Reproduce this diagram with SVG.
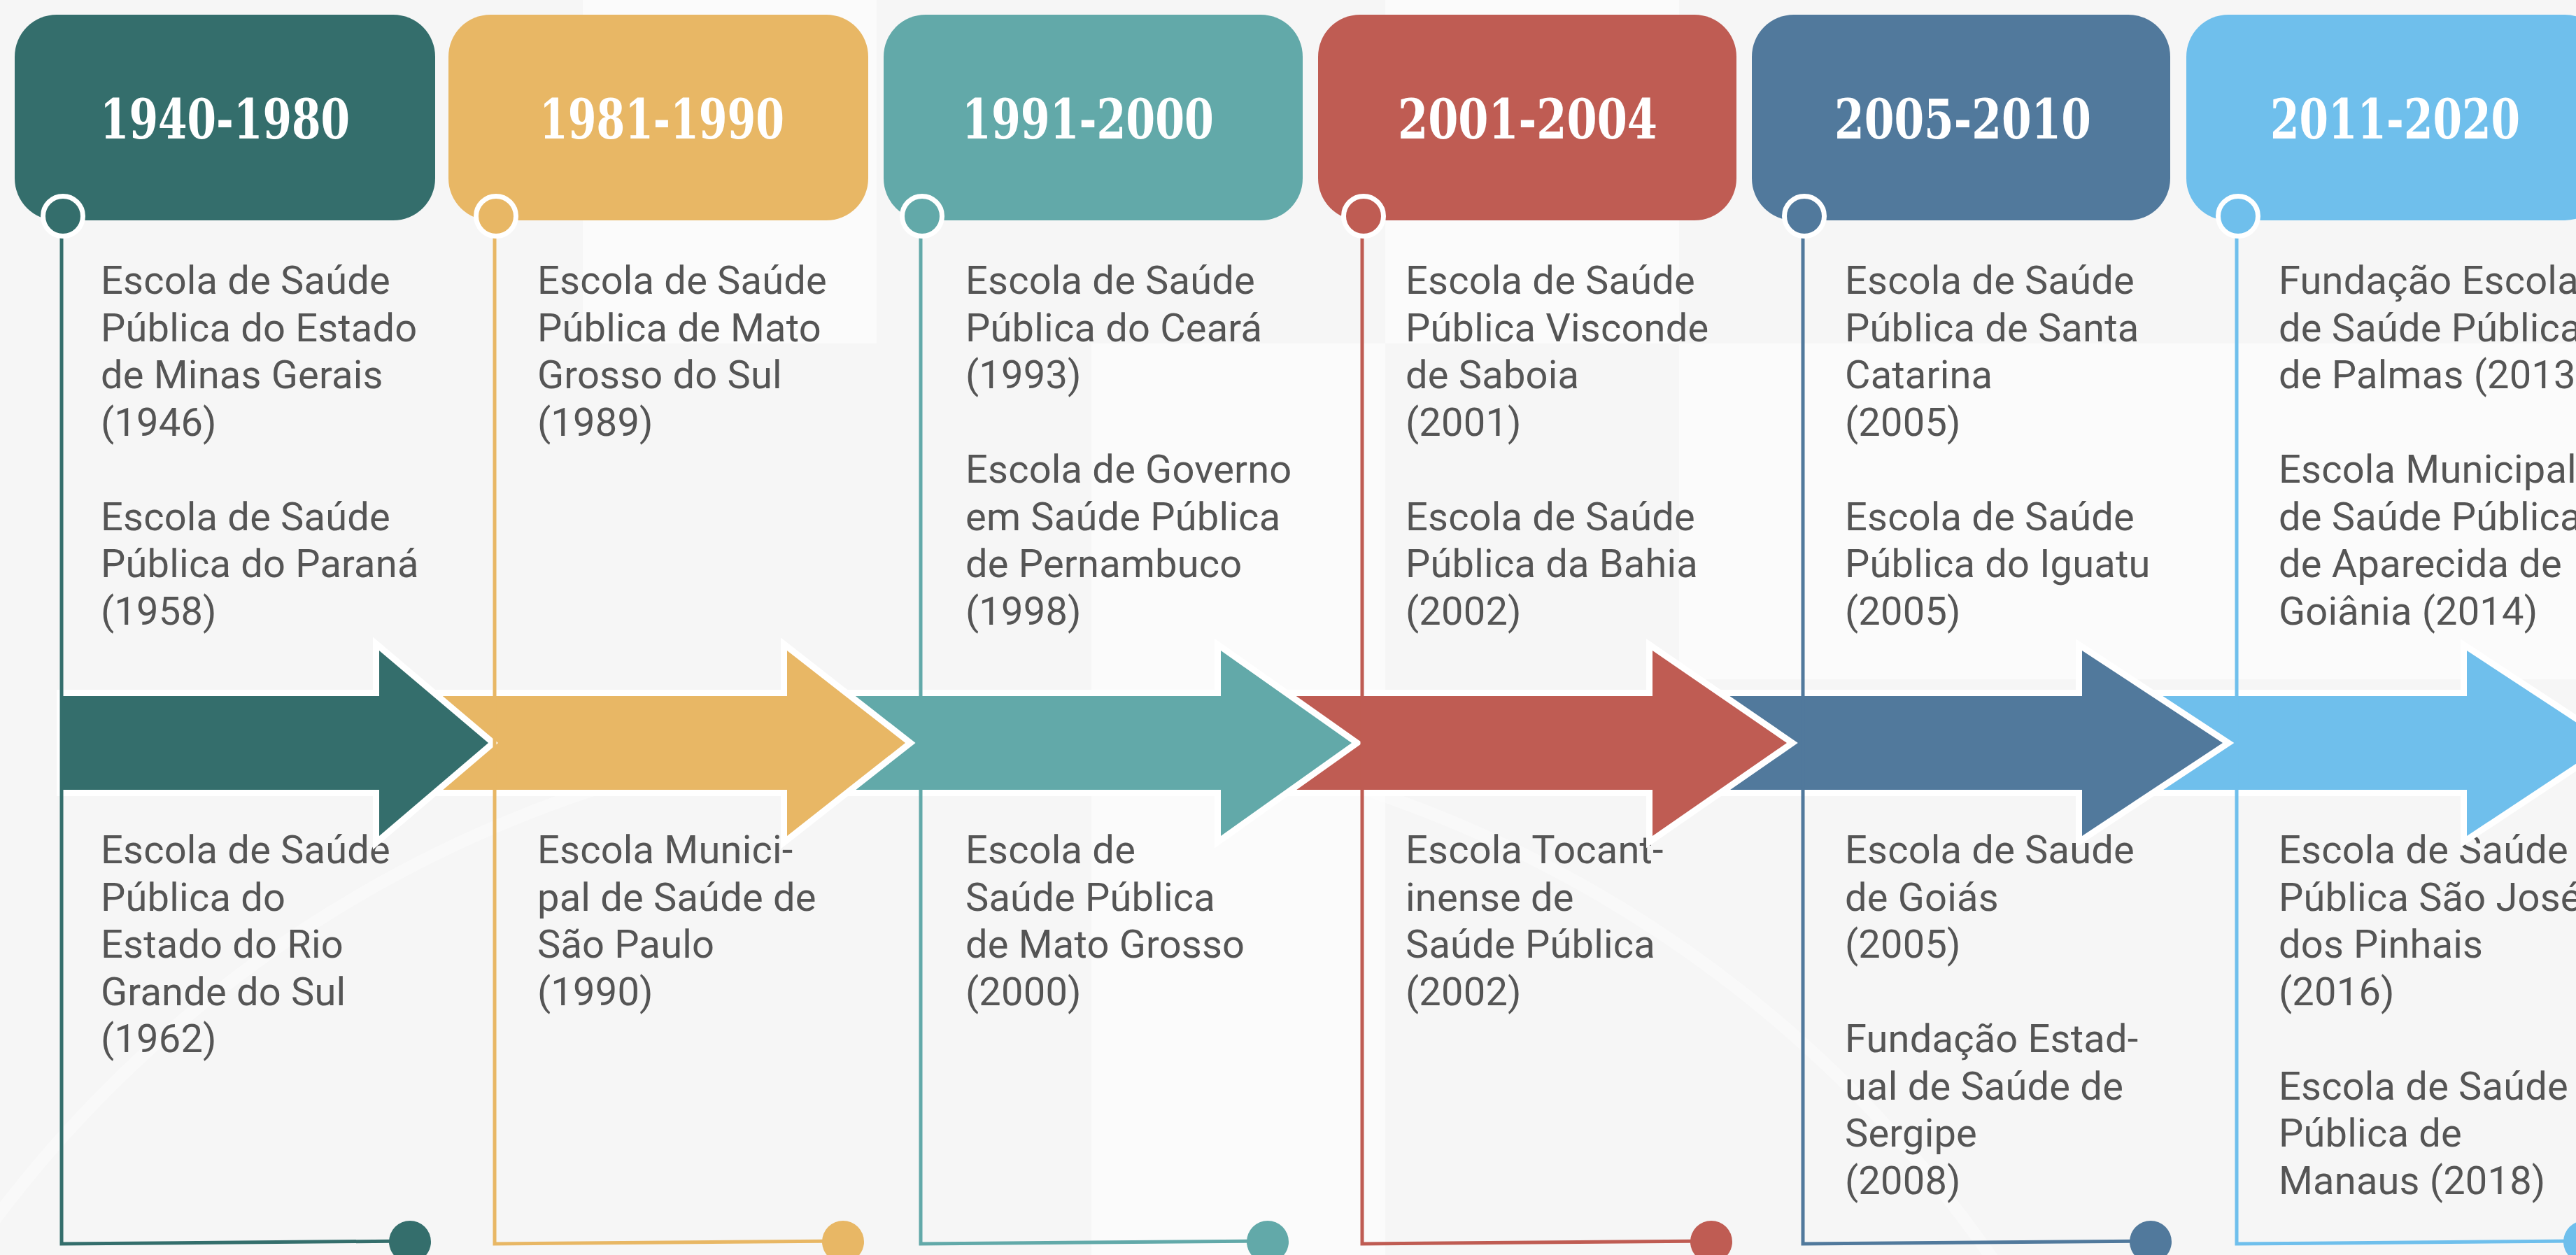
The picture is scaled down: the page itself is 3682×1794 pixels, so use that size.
<svg xmlns="http://www.w3.org/2000/svg" width="3682" height="1794" viewBox="0 0 3682 1794">
<style>
.bg{fill:#f6f6f6}
.hdr{font-family:"DejaVu Serif","Liberation Serif",serif;font-stretch:condensed;font-weight:bold;font-size:78px;fill:#ffffff;text-anchor:middle}
.body{font-family:Roboto,"Liberation Sans",sans-serif;font-size:56px;letter-spacing:0.2px;fill:#555555}
.arrow{stroke:#ffffff;stroke-width:18;stroke-linejoin:miter;paint-order:stroke}
.line{fill:none;stroke-width:5}
.knot{stroke:#ffffff;stroke-width:7}
.c1{fill:#346e6c}.s1{stroke:#346e6c}
.c2{fill:#e8b765}.s2{stroke:#e8b765}
.c3{fill:#62a9a9}.s3{stroke:#62a9a9}
.c4{fill:#bf5c53}.s4{stroke:#bf5c53}
.c5{fill:#51799c}.s5{stroke:#51799c}
.c6{fill:#6fbfec}.s6{stroke:#6fbfec}
</style>
<g id="background">
<rect class="bg" x="0" y="0" width="3682" height="1794"/>
<rect x="1980" y="0" width="420" height="491" fill="#ffffff" opacity="0.5"/>
<rect x="1560" y="491" width="420" height="1303" fill="#ffffff" opacity="0.5"/>
<rect x="2400" y="491" width="1282" height="480" fill="#ffffff" opacity="0.5"/>
<rect x="833" y="0" width="420" height="491" fill="#ffffff" opacity="0.5"/>
<circle cx="1400" cy="2800" r="1760" fill="none" stroke="#ffffff" stroke-width="18" opacity="0.4"/>
</g>

<g id="p1-text">
<text class="body" x="144" y="420">Escola de Saúde</text>
<text class="body" x="144" y="487.5">Pública do Estado</text>
<text class="body" x="144" y="555">de Minas Gerais</text>
<text class="body" x="144" y="622.5">(1946)</text>
<text class="body" x="144" y="757.5">Escola de Saúde</text>
<text class="body" x="144" y="825">Pública do Paraná</text>
<text class="body" x="144" y="892.5">(1958)</text>
<text class="body" x="144" y="1234">Escola de Saúde</text>
<text class="body" x="144" y="1301.5">Pública do</text>
<text class="body" x="144" y="1369">Estado do Rio</text>
<text class="body" x="144" y="1436.5">Grande do Sul</text>
<text class="body" x="144" y="1504">(1962)</text>
</g>
<g id="p2-text">
<text class="body" x="768" y="420">Escola de Saúde</text>
<text class="body" x="768" y="487.5">Pública de Mato</text>
<text class="body" x="768" y="555">Grosso do Sul</text>
<text class="body" x="768" y="622.5">(1989)</text>
<text class="body" x="768" y="1234">Escola Munici-</text>
<text class="body" x="768" y="1301.5">pal de Saúde de</text>
<text class="body" x="768" y="1369">São Paulo</text>
<text class="body" x="768" y="1436.5">(1990)</text>
</g>
<g id="p3-text">
<text class="body" x="1380" y="420">Escola de Saúde</text>
<text class="body" x="1380" y="487.5">Pública do Ceará</text>
<text class="body" x="1380" y="555">(1993)</text>
<text class="body" x="1380" y="690">Escola de Governo</text>
<text class="body" x="1380" y="757.5">em Saúde Pública</text>
<text class="body" x="1380" y="825">de Pernambuco</text>
<text class="body" x="1380" y="892.5">(1998)</text>
<text class="body" x="1380" y="1234">Escola de</text>
<text class="body" x="1380" y="1301.5">Saúde Pública</text>
<text class="body" x="1380" y="1369">de Mato Grosso</text>
<text class="body" x="1380" y="1436.5">(2000)</text>
</g>
<g id="p4-text">
<text class="body" x="2009" y="420">Escola de Saúde</text>
<text class="body" x="2009" y="487.5">Pública Visconde</text>
<text class="body" x="2009" y="555">de Saboia</text>
<text class="body" x="2009" y="622.5">(2001)</text>
<text class="body" x="2009" y="757.5">Escola de Saúde</text>
<text class="body" x="2009" y="825">Pública da Bahia</text>
<text class="body" x="2009" y="892.5">(2002)</text>
<text class="body" x="2009" y="1234">Escola Tocant-</text>
<text class="body" x="2009" y="1301.5">inense de</text>
<text class="body" x="2009" y="1369">Saúde Pública</text>
<text class="body" x="2009" y="1436.5">(2002)</text>
</g>
<g id="p5-text">
<text class="body" x="2637" y="420">Escola de Saúde</text>
<text class="body" x="2637" y="487.5">Pública de Santa</text>
<text class="body" x="2637" y="555">Catarina</text>
<text class="body" x="2637" y="622.5">(2005)</text>
<text class="body" x="2637" y="757.5">Escola de Saúde</text>
<text class="body" x="2637" y="825">Pública do Iguatu</text>
<text class="body" x="2637" y="892.5">(2005)</text>
<text class="body" x="2637" y="1234">Escola de Saúde</text>
<text class="body" x="2637" y="1301.5">de Goiás</text>
<text class="body" x="2637" y="1369">(2005)</text>
<text class="body" x="2637" y="1504">Fundação Estad-</text>
<text class="body" x="2637" y="1571.5">ual de Saúde de</text>
<text class="body" x="2637" y="1639">Sergipe</text>
<text class="body" x="2637" y="1706.5">(2008)</text>
</g>
<g id="p6-text">
<text class="body" x="3257" y="420">Fundação Escola</text>
<text class="body" x="3257" y="487.5">de Saúde Pública</text>
<text class="body" x="3257" y="555">de Palmas (2013)</text>
<text class="body" x="3257" y="690">Escola Municipal</text>
<text class="body" x="3257" y="757.5">de Saúde Pública</text>
<text class="body" x="3257" y="825">de Aparecida de</text>
<text class="body" x="3257" y="892.5">Goiânia (2014)</text>
<text class="body" x="3257" y="1234">Escola de Saúde</text>
<text class="body" x="3257" y="1301.5">Pública São José</text>
<text class="body" x="3257" y="1369">dos Pinhais</text>
<text class="body" x="3257" y="1436.5">(2016)</text>
<text class="body" x="3257" y="1571.5">Escola de Saúde</text>
<text class="body" x="3257" y="1639">Pública de</text>
<text class="body" x="3257" y="1706.5">Manaus (2018)</text>
</g>

<g id="timeline-arrows">
<polygon class="arrow c6" points="3006,995 3526,995 3526,930 3727,1062 3526,1195 3526,1129 3006,1129"/>
<polygon class="arrow c5" points="2392,995 2976,995 2976,930 3177,1062 2976,1195 2976,1129 2392,1129"/>
<polygon class="arrow c4" points="1775,995 2362,995 2362,930 2554,1062 2362,1195 2362,1129 1775,1129"/>
<polygon class="arrow c3" points="1155,995 1745,995 1745,930 1932,1062 1745,1195 1745,1129 1155,1129"/>
<polygon class="arrow c2" points="572,995 1125,995 1125,930 1294,1062 1125,1195 1125,1129 572,1129"/>
<polygon class="arrow c1" points="90,995 542,995 542,930 698,1062 542,1195 542,1129 90,1129"/>
</g>

<g id="connectors">
<polyline class="line s1" points="88,309 88,1778 586,1774"/>
<polyline class="line s2" points="707,309 707,1778 1205,1774"/>
<polyline class="line s3" points="1316,309 1316,1778 1812,1774"/>
<polyline class="line s4" points="1947,309 1947,1778 2446,1774"/>
<polyline class="line s5" points="2577,309 2577,1778 3074,1774"/>
<polyline class="line s6" points="3197,309 3197,1778 3694,1774"/>
<circle class="c1" cx="586" cy="1775" r="30"/>
<circle class="c2" cx="1205" cy="1775" r="30"/>
<circle class="c3" cx="1812" cy="1775" r="30"/>
<circle class="c4" cx="2446" cy="1775" r="30"/>
<circle class="c5" cx="3074" cy="1775" r="30"/>
<circle class="c6" cx="3694" cy="1775" r="30"/>
</g>

<g id="p1">
<rect class="c1" x="21" y="21" width="601" height="294" rx="60"/>
<text class="hdr" x="321.5" y="198" textLength="357" lengthAdjust="spacingAndGlyphs">1940-1980</text>
<circle class="knot c1" cx="90" cy="309" r="28.5"/>
</g>
<g id="p2">
<rect class="c2" x="641" y="21" width="600" height="294" rx="60"/>
<text class="hdr" x="946" y="198" textLength="350" lengthAdjust="spacingAndGlyphs">1981-1990</text>
<circle class="knot c2" cx="709" cy="309" r="28.5"/>
</g>
<g id="p3">
<rect class="c3" x="1263" y="21" width="599" height="294" rx="60"/>
<text class="hdr" x="1555" y="198" textLength="360" lengthAdjust="spacingAndGlyphs">1991-2000</text>
<circle class="knot c3" cx="1318" cy="309" r="28.5"/>
</g>
<g id="p4">
<rect class="c4" x="1884" y="21" width="598" height="294" rx="60"/>
<text class="hdr" x="2183.5" y="198" textLength="371" lengthAdjust="spacingAndGlyphs">2001-2004</text>
<circle class="knot c4" cx="1949" cy="309" r="28.5"/>
</g>
<g id="p5">
<rect class="c5" x="2504" y="21" width="598" height="294" rx="60"/>
<text class="hdr" x="2805.5" y="198" textLength="367" lengthAdjust="spacingAndGlyphs">2005-2010</text>
<circle class="knot c5" cx="2579" cy="309" r="28.5"/>
</g>
<g id="p6">
<rect class="c6" x="3125" y="21" width="601" height="294" rx="60"/>
<text class="hdr" x="3423.5" y="198" textLength="357" lengthAdjust="spacingAndGlyphs">2011-2020</text>
<circle class="knot c6" cx="3199" cy="309" r="28.5"/>
</g>
</svg>
